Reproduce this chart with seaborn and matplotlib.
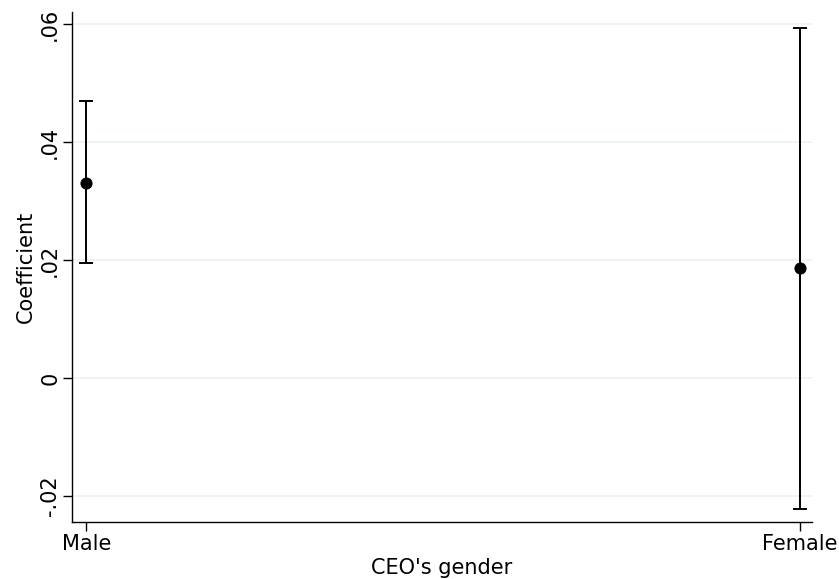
import numpy as np
import pandas as pd
import matplotlib
matplotlib.use("Agg")
import matplotlib.pyplot as plt
import seaborn as sns

categories = ["Male", "Female"]
coef = [0.0331, 0.0186]
ci_low = [0.0195, -0.0222]
ci_high = [0.0469, 0.0594]
ytick_vals = [-0.02, 0.0, 0.02, 0.04, 0.06]
ytick_labels = ["-.02", "0", ".02", ".04", ".06"]

sns.set_style("white")
plt.rcParams['font.family'] = ['DejaVu Sans']
plt.rcParams['text.color'] = 'black'
plt.rcParams['axes.labelcolor'] = 'black'
plt.rcParams['xtick.color'] = 'black'
plt.rcParams['ytick.color'] = 'black'

df = pd.DataFrame({"pos": np.arange(1, len(categories) + 1), "coef": coef,
                   "lo": ci_low, "hi": ci_high, "cat": categories})

fig = plt.figure(figsize=(8.39, 5.79), dpi=100)
ax = fig.add_axes([0.0858, 0.0984, 0.8820, 0.8806])

for v in ytick_vals:
    ax.axhline(v, color="#eaf2f3", lw=1.2, zorder=0)

ax.errorbar(df["pos"], df["coef"],
            yerr=[df["coef"] - df["lo"], df["hi"] - df["coef"]],
            fmt="none", ecolor="black", elinewidth=1.4, capsize=5, capthick=1.4, zorder=2)
sns.scatterplot(data=df, x="pos", y="coef", color="black", s=65, edgecolor="black",
                ax=ax, zorder=3, legend=False)

ax.set_xlim(0.980, 2.017)
ax.set_ylim(-0.0244, 0.062)
ax.set_xticks(df["pos"])
ax.set_xticklabels(categories, fontsize=15)
ax.set_yticks(ytick_vals)
ax.set_yticklabels(ytick_labels, fontsize=15, rotation=90, va="center")
ax.set_xlabel("CEO's gender", fontsize=15, labelpad=3)
ax.set_ylabel("Coefficient", fontsize=15, labelpad=3)

for s in ["top", "right"]:
    ax.spines[s].set_visible(False)
for s in ["left", "bottom"]:
    ax.spines[s].set_color("black")
    ax.spines[s].set_linewidth(1.0)
ax.tick_params(axis="both", which="major", direction="out", length=6.5, width=1,
               color="black", bottom=True, left=True, pad=2)
ax.grid(False)

fig.savefig("out.png", dpi=100)
